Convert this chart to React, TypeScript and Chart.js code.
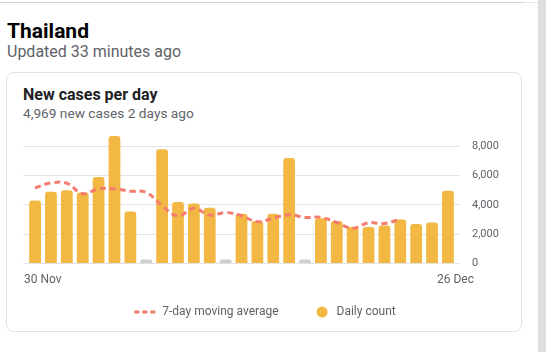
import React, { useEffect, useRef } from 'react';
import { Chart, registerables } from 'chart.js';

Chart.register(...registerables);

const dateLabels = [
  '30 Nov', '1 Dec', '2 Dec', '3 Dec', '4 Dec', '5 Dec', '6 Dec', '7 Dec', '8 Dec',
  '9 Dec', '10 Dec', '11 Dec', '12 Dec', '13 Dec', '14 Dec', '15 Dec', '16 Dec', '17 Dec',
  '18 Dec', '19 Dec', '20 Dec', '21 Dec', '22 Dec', '23 Dec', '24 Dec', '25 Dec', '26 Dec',
];

// null = no report for that day (drawn as a small grey placeholder bar)
const dailyCount: (number | null)[] = [
  4300, 4900, 5000, 4850, 5900, 8700, 3550, null, 7800,
  4200, 4100, 3800, null, 3400, 2900, 3400, 7200, null,
  3100, 2900, 2500, 2500, 2600, 3000, 2700, 2800, 4969,
];

const movingAverage: (number | null)[] = [
  5170, 5500, 5480, 4760, 5100, 5100, 4940, 4850, 3950,
  3250, 3770, 3300, 3480, 3260, 2850, 3100, 3330, 3150,
  3150, 2800, 2410, 2780, 2730, 3030, null, null, null,
];

const yTickValues = [0, 2000, 4000, 6000, 8000];
const yMax = 9000;
const missingDayMarker = 280;

const FONT = 'Roboto, "Noto Sans", Arial, sans-serif';
const BAR_COLOR = '#f2b843';
const MISSING_COLOR = '#cccfd2';
const LINE_COLOR = '#f47c6e';
const TEXT_GREY = '#5f6368';

const legendShift = {
  id: 'legendShift',
  afterLayout(chart: any) {
    const l = chart.legend;
    if (l) {
      l.top -= 20;
      l.bottom -= 20;
    }
  },
};

function ChartCanvas() {
  const ref = useRef<HTMLCanvasElement | null>(null);

  useEffect(() => {
    if (!ref.current) return;

    const dot = document.createElement('canvas');
    dot.width = 17;
    dot.height = 12;
    const dctx = dot.getContext('2d');
    if (dctx) {
      dctx.fillStyle = BAR_COLOR;
      dctx.beginPath();
      dctx.arc(11, 6, 5.5, 0, Math.PI * 2);
      dctx.fill();
    }

    const barData = dailyCount.map((v, i) => ({ x: i, y: v == null ? missingDayMarker : v }));
    const barColors = dailyCount.map((v) => (v == null ? MISSING_COLOR : BAR_COLOR));
    const lineData = movingAverage.map((v, i) => ({ x: i, y: v }));

    const chart = new Chart(ref.current, {
      type: 'bar',
      data: {
        datasets: [
          {
            type: 'line',
            label: '7-day moving average',
            data: lineData as any,
            borderColor: LINE_COLOR,
            backgroundColor: LINE_COLOR,
            borderWidth: 3,
            borderDash: [6, 4],
            pointRadius: 0,
            tension: 0.4,
            spanGaps: false,
            order: 0,
          } as any,
          {
            type: 'bar',
            label: 'Daily count',
            data: barData as any,
            backgroundColor: barColors,
            borderRadius: { topLeft: 3, topRight: 3, bottomLeft: 0, bottomRight: 0 },
            borderSkipped: false,
            barPercentage: 0.74,
            categoryPercentage: 1,
            order: 1,
          } as any,
        ],
      },
      plugins: [legendShift],
      options: {
        responsive: false,
        animation: false,
        devicePixelRatio: 1,
        layout: { padding: 0 },
        plugins: {
          tooltip: { enabled: false },
          legend: {
            position: 'bottom',
            labels: {
              usePointStyle: true,
              pointStyleWidth: 22,
              padding: 30,
              color: TEXT_GREY,
              font: { family: FONT, size: 12 },
              generateLabels: () => [
                {
                  text: '7-day moving average',
                  pointStyle: 'line',
                  strokeStyle: LINE_COLOR,
                  fillStyle: LINE_COLOR,
                  lineWidth: 3,
                  lineDash: [5, 3],
                  fontColor: TEXT_GREY,
                  datasetIndex: 0,
                  hidden: false,
                } as any,
                {
                  text: 'Daily count',
                  pointStyle: dot,
                  strokeStyle: BAR_COLOR,
                  fillStyle: BAR_COLOR,
                  lineWidth: 0,
                  fontColor: TEXT_GREY,
                  datasetIndex: 1,
                  hidden: false,
                } as any,
              ],
            },
          },
        },
        scales: {
          x: {
            type: 'linear',
            offset: false,
            min: -0.76,
            max: dateLabels.length - 1 + 0.76,
            grid: { display: false, drawTicks: false, offset: false },
            border: { display: false },
            afterBuildTicks: (axis: any) => {
              axis.ticks = [{ value: 0 }, { value: dateLabels.length - 1 }];
            },
            ticks: {
              autoSkip: false,
              maxRotation: 0,
              minRotation: 0,
              align: 'start',
              labelOffset: -11,
              padding: 9,
              color: TEXT_GREY,
              font: { family: FONT, size: 12 },
              callback: (v: any) => dateLabels[Math.round(Number(v))] ?? '',
            },
          },
          y: {
            position: 'right',
            min: 0,
            max: yMax,
            afterBuildTicks: (axis: any) => {
              axis.ticks = yTickValues.map((value) => ({ value }));
            },
            afterFit: (axis: any) => {
              axis.width = 47;
            },
            grid: { color: '#e3e3e3', drawTicks: false, lineWidth: 1 },
            border: { display: false },
            ticks: {
              padding: 12,
              color: TEXT_GREY,
              font: { family: FONT, size: 11 },
              callback: (v: any) => Number(v).toLocaleString('en-US'),
            },
          },
        },
      } as any,
    });

    return () => chart.destroy();
  }, []);

  return (
    <canvas
      ref={ref}
      width={484}
      height={235}
      style={{ position: 'absolute', left: 23, top: 113, width: 484, height: 235 }}
    />
  );
}

export default function App() {
  return (
    <div
      style={{
        position: 'absolute',
        left: 0,
        top: 0,
        width: 546,
        height: 352,
        background: '#fff',
        overflow: 'hidden',
        fontFamily: FONT,
      }}
    >
      <div style={{ position: 'absolute', left: 0, top: 2, width: 522, height: 1, background: '#cfcfcf' }} />
      <div style={{ position: 'absolute', left: 522, top: 2, width: 16, height: 1, background: '#e6e6e6' }} />
      <div style={{ position: 'absolute', left: 538, top: 0, width: 8, height: 352, background: '#dedede' }} />

      <div
        style={{
          position: 'absolute',
          left: 7,
          top: 18,
          fontSize: 21,
          lineHeight: '26px',
          fontWeight: 700,
          color: '#000',
          whiteSpace: 'nowrap',
        }}
      >
        Thailand
      </div>
      <div
        style={{
          position: 'absolute',
          left: 7,
          top: 42,
          fontSize: 16,
          lineHeight: '20px',
          color: TEXT_GREY,
          whiteSpace: 'nowrap',
        }}
      >
        Updated 33 minutes ago
      </div>

      <div
        style={{
          position: 'absolute',
          left: 6,
          top: 72,
          width: 516,
          height: 260,
          boxSizing: 'border-box',
          border: '1px solid #dfe1e5',
          borderRadius: 8,
        }}
      />
      <div
        style={{
          position: 'absolute',
          left: 23,
          top: 85,
          fontSize: 16,
          lineHeight: '20px',
          fontWeight: 700,
          color: '#202124',
          whiteSpace: 'nowrap',
        }}
      >
        New cases per day
      </div>
      <div
        style={{
          position: 'absolute',
          left: 23,
          top: 104,
          fontSize: 13.7,
          lineHeight: '18px',
          color: TEXT_GREY,
          whiteSpace: 'nowrap',
        }}
      >
        4,969 new cases 2 days ago
      </div>

      <ChartCanvas />
    </div>
  );
}
